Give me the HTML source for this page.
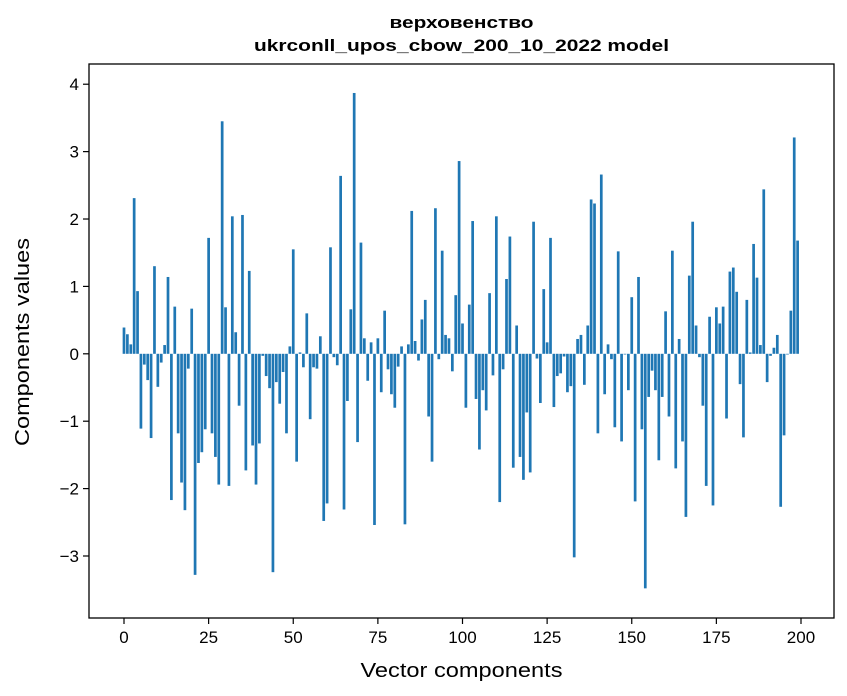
<!DOCTYPE html>
<html><head><meta charset="utf-8"><style>
html,body{margin:0;padding:0;background:#fff;}
svg{display:block;font-family:"Liberation Sans","DejaVu Sans",sans-serif;}
</style></head><body>
<svg id="chart" width="847" height="696" viewBox="0 0 847 696">
<rect width="847" height="696" fill="#fff"/>
<text x="461.5" y="28" text-anchor="middle" font-size="17" font-weight="bold" textLength="144" lengthAdjust="spacingAndGlyphs">верховенство</text>
<text x="461.5" y="51" text-anchor="middle" font-size="17" font-weight="bold" textLength="415" lengthAdjust="spacingAndGlyphs">ukrconll_upos_cbow_200_10_2022 model</text>
<g id="bars"></g>
<g id="xticks"></g>
<g id="yticks"></g>
<rect x="89" y="64" width="745" height="554" fill="none" stroke="#000" stroke-width="1.3"/>
<text x="461.5" y="677" text-anchor="middle" font-size="20" textLength="202" lengthAdjust="spacingAndGlyphs">Vector components</text>
<text x="0" y="0" transform="translate(29,342) rotate(-90)" text-anchor="middle" font-size="20" textLength="208" lengthAdjust="spacingAndGlyphs">Components values</text>
</svg>
<script>
const values = [0.39,0.29,0.14,2.31,0.93,-1.11,-0.16,-0.39,-1.25,1.30,
-0.49,-0.13,0.13,1.14,-2.17,0.70,-1.18,-1.91,-2.32,-0.22,
0.67,-3.28,-1.62,-1.46,-1.12,1.72,-1.18,-1.53,-1.94,3.45,
0.69,-1.96,2.04,0.32,-0.77,2.06,-1.73,1.23,-1.36,-1.94,
-1.33,-0.03,-0.33,-0.51,-3.24,-0.42,-0.74,-0.27,-1.18,0.11,
1.55,-1.60,0.02,-0.20,0.60,-0.97,-0.20,-0.22,0.26,-2.48,
-2.22,1.58,-0.05,-0.17,2.64,-2.31,-0.70,0.66,3.87,-1.31,
1.65,0.23,-0.40,0.17,-2.54,0.23,-0.57,0.64,-0.23,-0.60,
-0.80,-0.19,0.11,-2.53,0.14,2.12,0.19,-0.10,0.51,0.80,
-0.93,-1.60,2.16,-0.08,1.53,0.28,0.23,-0.26,0.87,2.86,
0.45,-0.80,0.73,1.97,-0.67,-1.42,-0.54,-0.84,0.90,-0.32,
2.04,-2.20,-0.23,1.11,1.74,-1.69,0.42,-1.53,-1.87,-0.87,
-1.76,1.96,-0.07,-0.73,0.96,0.17,1.72,-0.79,-0.33,-0.29,
-0.04,-0.57,-0.48,-3.02,0.22,0.28,-0.46,0.42,2.29,2.23,
-1.18,2.66,-0.60,0.14,-0.08,-1.09,1.52,-1.30,-0.01,-0.54,
0.84,-2.19,1.14,-1.12,-3.48,-0.64,-0.25,-0.54,-1.58,-0.64,
0.63,-0.93,1.53,-1.70,0.22,-1.30,-2.42,1.16,1.96,0.42,
-0.05,-0.77,-1.96,0.55,-2.25,0.69,0.45,0.70,-0.96,1.22,
1.28,0.92,-0.45,-1.24,0.80,0.02,1.63,1.13,0.13,2.44,
-0.42,-0.03,0.09,0.28,-2.27,-1.21,-0.01,0.64,3.21,1.68];
const xTicks = [0,25,50,75,100,125,150,175,200];
const yTicks = [-3,-2,-1,0,1,2,3,4];
const yTickLabels = ["\u22123","\u22122","\u22121","0","1","2","3","4"];

const L=89,R=834,T=64,B=618;
const xMin=-10.34,xMax=209.75,yMin=-3.92,yMax=4.30;
function xs(v){return L+(v-xMin)/(xMax-xMin)*(R-L);}
function ys(v){return T+(yMax-v)/(yMax-yMin)*(B-T);}
const NS="http://www.w3.org/2000/svg";
const gb=document.getElementById('bars');
values.forEach((v,i)=>{
  const r=document.createElementNS(NS,'rect');
  const x0=xs(i-0.4),x1=xs(i+0.4);
  const y0=ys(Math.max(v,0)),y1=ys(Math.min(v,0));
  r.setAttribute('x',x0);r.setAttribute('width',x1-x0);
  r.setAttribute('y',y0);r.setAttribute('height',Math.max(y1-y0,0.3));
  r.setAttribute('fill','#1f77b4');
  
  
  gb.appendChild(r);
});
const gx=document.getElementById('xticks');
xTicks.forEach(t=>{
  const x=xs(t);
  const l=document.createElementNS(NS,'line');
  l.setAttribute('x1',x);l.setAttribute('x2',x);l.setAttribute('y1',B);l.setAttribute('y2',B+6);
  l.setAttribute('stroke','#000');l.setAttribute('stroke-width','1.2');
  
  
  gx.appendChild(l);
  const tx=document.createElementNS(NS,'text');
  tx.setAttribute('x',x);tx.setAttribute('y',B+25);tx.setAttribute('text-anchor','middle');tx.setAttribute('font-size','17');
  tx.textContent=t;
  
  
  gx.appendChild(tx);
});
const gy=document.getElementById('yticks');
yTicks.forEach((t,i)=>{
  const y=ys(t);
  const l=document.createElementNS(NS,'line');
  l.setAttribute('x1',L-6);l.setAttribute('x2',L);l.setAttribute('y1',y);l.setAttribute('y2',y);
  l.setAttribute('stroke','#000');l.setAttribute('stroke-width','1.2');
  
  
  gy.appendChild(l);
  const tx=document.createElementNS(NS,'text');
  tx.setAttribute('x',L-10);tx.setAttribute('y',y+6);tx.setAttribute('text-anchor','end');tx.setAttribute('font-size','17');
  tx.textContent=yTickLabels[i];
  
  
  gy.appendChild(tx);
});
</script>
</body></html>
